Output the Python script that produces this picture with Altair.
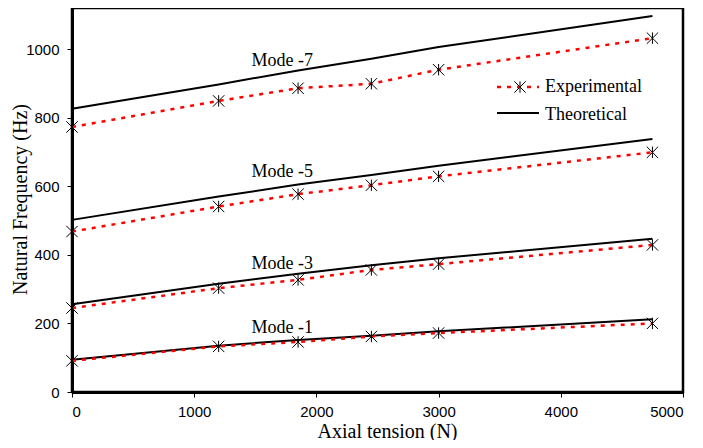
import altair as alt
import pandas as pd

tension = [0, 1200, 1850, 2450, 3000, 4750]

modes = ["Mode -1", "Mode -3", "Mode -5", "Mode -7"]
exp_vals = {
    "Mode -1": [91, 133, 146, 162, 172, 200],
    "Mode -3": [245, 303, 327, 356, 373, 429],
    "Mode -5": [468, 541, 577, 603, 629, 699],
    "Mode -7": [773, 849, 886, 899, 940, 1032],
}
theo_vals = {
    "Mode -1": [94, 135, 152, 164, 177, 212],
    "Mode -3": [256, 316, 345, 370, 390, 447],
    "Mode -5": [502, 570, 605, 633, 660, 738],
    "Mode -7": [826, 897, 938, 972, 1006, 1097],
}
label_x = [1720, 1720, 1720, 1720]
label_y = [173, 358, 627, 951]

legend_labels = ["Experimental", "Theoretical"]

rows_e, rows_t = [], []
for m in modes:
    for t, v in zip(tension, exp_vals[m]):
        rows_e.append({"mode": m, "T": t, "f": v})
    for t, v in zip(tension, theo_vals[m]):
        rows_t.append({"mode": m, "T": t, "f": v})
df_e = pd.DataFrame(rows_e)
df_t = pd.DataFrame(rows_t)
df_lab = pd.DataFrame({"mode": modes, "T": label_x, "f": label_y})

W = 611
xs = alt.Scale(domain=[0, 5000], nice=False)
ys = alt.Scale(domain=[0, 1120], nice=False)

xax = alt.Axis(values=[0, 1000, 2000, 3000, 4000, 5000], format="d", title="Axial tension (N)",
               titleX=315, titleY=45, titleBaseline="alphabetic", titleAlign="center")
yax = alt.Axis(values=[0, 200, 400, 600, 800, 1000], format="d", title="Natural Frequency (Hz)",
               titleX=-52, titleY=191, titleAngle=-90, titleBaseline="middle", titleAlign="center")

X = alt.X("T:Q", scale=xs, axis=xax)
Y = alt.Y("f:Q", scale=ys, axis=yax)

theo = alt.Chart(df_t).mark_line(color="black", strokeWidth=2).encode(
    x=X, y=Y, detail="mode:N")
exp_line = alt.Chart(df_e).mark_line(color="#ff0000", strokeWidth=2.5, strokeDash=[4, 6]).encode(
    x=X, y=Y, detail="mode:N")
star = "M-1,-1L1,1M-1,1L1,-1M0,-1L0,1"
exp_pts = alt.Chart(df_e).mark_point(shape=star, size=130, color="black", strokeWidth=1,
                                     filled=False, opacity=1).encode(x=X, y=Y)
labels = alt.Chart(df_lab).mark_text(font="Liberation Serif", fontSize=18, align="center",
                                     baseline="alphabetic", color="black").encode(
    x=X, y=Y, text="mode:N")

leg_df = pd.DataFrame({"label": legend_labels})
leg_e_line = alt.Chart(leg_df.iloc[[0]]).mark_rule(color="#ff0000", strokeWidth=2.5,
                                                   strokeDash=[4, 6]).encode(
    x=alt.value(425), x2=alt.value(467), y=alt.value(79))
leg_e_pt = alt.Chart(leg_df.iloc[[0]]).mark_point(shape=star, size=130, color="black",
                                                  strokeWidth=1, opacity=1).encode(
    x=alt.value(448), y=alt.value(79))
leg_t_line = alt.Chart(leg_df.iloc[[1]]).mark_rule(color="black", strokeWidth=2).encode(
    x=alt.value(425), x2=alt.value(467), y=alt.value(105))
leg_e_text = alt.Chart(leg_df.iloc[[0]]).mark_text(font="Liberation Serif", fontSize=18, align="left",
                                                   baseline="alphabetic", color="black").encode(
    x=alt.value(473), y=alt.value(84), text="label:N")
leg_t_text = alt.Chart(leg_df.iloc[[1]]).mark_text(font="Liberation Serif", fontSize=18, align="left",
                                                   baseline="alphabetic", color="black").encode(
    x=alt.value(473), y=alt.value(112), text="label:N")

chart = alt.layer(theo, exp_line, exp_pts, labels, leg_e_line, leg_e_pt, leg_t_line,
                  leg_e_text, leg_t_text).properties(
    width=W, height=384,
    autosize=alt.AutoSizeParams(type="none"),
    padding={"left": 64, "top": 0, "right": 687 - 64 - W, "bottom": 48},
    background="white",
).configure_view(
    stroke="black", strokeWidth=2.5
).configure_axis(
    grid=False, domainColor="black", domainWidth=3, tickColor="black", tickWidth=1,
    tickSize=5, labelFont="Liberation Sans", labelFontSize=15, labelColor="black",
    titleFont="Liberation Serif", titleFontSize=20, titleFontWeight="normal", titleColor="black",
).configure_axisX(labelPadding=7).configure_axisY(labelPadding=8)

chart.save("out.html", embed_options={"renderer": "svg", "actions": False})
